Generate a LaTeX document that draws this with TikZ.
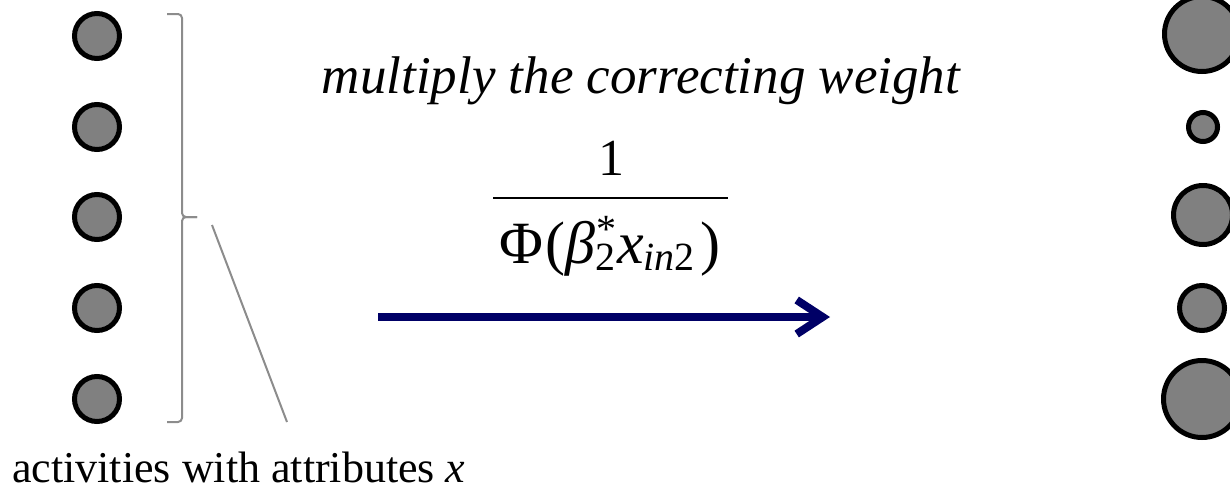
\documentclass[tikz,border=0pt]{standalone}
\usepackage{fontspec}
\setmainfont{Liberation Serif}
\usepackage{tikz}
\usetikzlibrary{arrows.meta, positioning}
\definecolor{unitgray}{HTML}{808080}
\definecolor{linegray}{HTML}{8C8C8C}
\definecolor{arrownavy}{HTML}{000066}

\newcommand{\scriptsz}{\fontsize{40}{40}\selectfont}

\begin{document}
\begin{tikzpicture}[
    x=1pt, y=-1pt,
    unit/.style={circle, draw=black, fill=unitgray, line width=5pt, minimum size=#1, inner sep=0pt},
    unit/.default=45pt,
    groupbrace/.style={draw=linegray, line width=2pt, rounded corners=4pt},
    pointer/.style={draw=linegray, line width=2pt},
    fracbar/.style={draw=black, line width=2pt},
    arr/.style={-{Straight Barb[length=26pt, width=34pt]}, line width=8pt, color=arrownavy},
    heading/.style={font=\fontsize{53}{60}\selectfont\itshape, anchor=base, inner sep=0pt},
    mathtext/.style={font=\fontsize{#1}{60}\selectfont, anchor=base, inner sep=0pt},
    caption/.style={font=\fontsize{44}{50}\selectfont, anchor=base west, inner sep=0pt},
]
\useasboundingbox (0,0) rectangle (1230,490);

% ─── Input activities ───
\node[unit] (in1) at (97,36) {};
\node[unit] (in2) at (97,127) {};
\node[unit] (in3) at (97,217) {};
\node[unit] (in4) at (97,308) {};
\node[unit] (in5) at (97,399) {};

% ─── Brace and pointer ───
\coordinate (bracetop) at (167,14);
\coordinate (bracebot) at (167,422);
\coordinate (bracetip) at (197,217);
\draw[groupbrace] (bracetop) -- ++(15,0) |- (bracetip);
\draw[groupbrace] (bracebot) -- ++(15,0) |- (bracetip);

\coordinate (ptrtop) at (212,225);
\coordinate (ptrbot) at (287,422);
\draw[pointer] (ptrtop) -- (ptrbot);

\node[caption] (attrs) at (12,482) {activities with attributes \textit{x}};

% ─── Correcting weight ───
\node[heading] (title) at (641,93) {multiply the correcting weight};

\node[mathtext=52] (num) at (611,175) {1};
\coordinate (barleft) at (493,198);
\coordinate (barright) at (728,198);
\draw[fracbar] (barleft) -- (barright);
\node[mathtext=60] (den) at (610,263) {Φ\kern2pt(\textit{β}\rlap{\raisebox{21pt}{\scriptsz\kern1pt *}}\raisebox{-7pt}{\scriptsz 2}\kern2pt\textit{x}\raisebox{-7pt}{\scriptsz\textit{in}2}\kern6pt)};

\coordinate (arrstart) at (378,317);
\coordinate (arrend) at (830,317);
\draw[arr] (arrstart) -- (arrend);

% ─── Weighted activities ───
\node[unit=75pt] (out1) at (1202,34) {};
\node[unit=29pt] (out2) at (1203,127) {};
\node[unit=59pt] (out3) at (1203,215) {};
\node[unit=45pt] (out4) at (1202,308) {};
\node[unit=77pt] (out5) at (1202,399) {};

\end{tikzpicture}
\end{document}
